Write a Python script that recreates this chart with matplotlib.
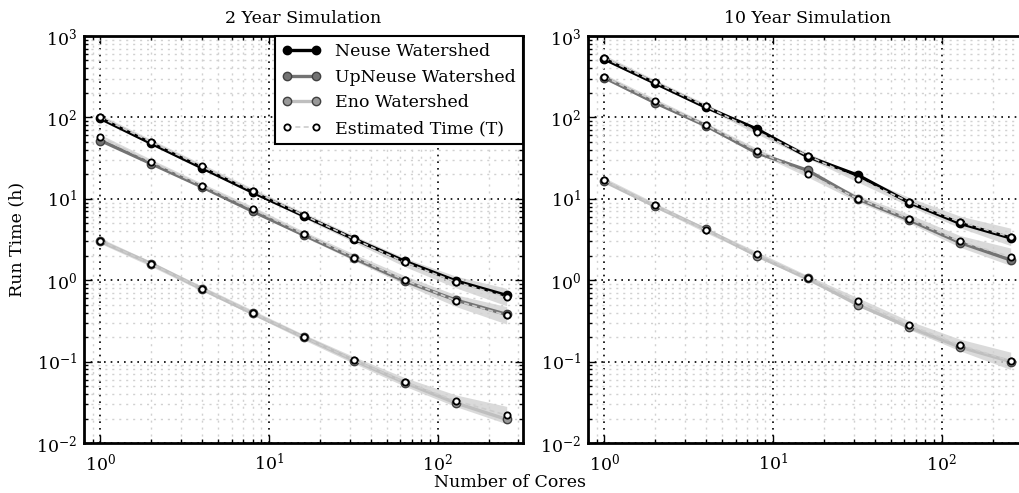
import numpy as np
import matplotlib.pyplot as plt

plt.rcParams['font.family'] = ['DejaVu Serif']
plt.rcParams['mathtext.fontset'] = 'dejavuserif'
plt.rcParams['font.size'] = 12.5

cores = [1, 2, 4, 8, 16, 32, 64, 128, 256]

# 2 year simulation (hours)
neuse_2 = [97, 48, 24, 12, 6.2, 3.2, 1.7, 0.98, 0.65]
neuse_2_est = [100, 50, 25, 12.5, 6.3, 3.2, 1.65, 0.95, 0.62]
upneuse_2 = [52, 27, 14, 7.0, 3.6, 1.85, 0.97, 0.57, 0.38]
upneuse_2_est = [57, 28.5, 14.5, 7.5, 3.7, 1.9, 1.0, 0.56, 0.37]
eno_2 = [3.0, 1.6, 0.78, 0.39, 0.2, 0.103, 0.055, 0.031, 0.0195]
eno_2_est = [3.05, 1.58, 0.79, 0.40, 0.2, 0.104, 0.056, 0.033, 0.022]

# 10 year simulation (hours)
neuse_10 = [520, 263, 133, 72, 33, 19.4, 9.0, 5.0, 3.3]
neuse_10_est = [540, 270, 137, 67, 34, 17.5, 9.2, 5.2, 3.4]
upneuse_10 = [308, 151, 79, 36.6, 22.4, 9.9, 5.5, 2.9, 1.77]
upneuse_10_est = [315, 158, 80, 39, 20, 10, 5.7, 3.0, 1.94]
eno_10 = [16.4, 8.1, 4.2, 2.0, 1.05, 0.495, 0.265, 0.151, 0.1]
eno_10_est = [16.8, 8.3, 4.1, 2.1, 1.06, 0.55, 0.28, 0.16, 0.102]

# multiplicative spread of the estimate band
band_spread = [1.08, 1.07, 1.07, 1.07, 1.08, 1.1, 1.13, 1.18, 1.28]

names = ['Neuse Watershed', 'UpNeuse Watershed', 'Eno Watershed']
line_colors = ['black', '0.45', '0.75']
marker_colors = ['black', '0.45', '0.6']
titles = ['2 Year Simulation', '10 Year Simulation']

panels = [
    [(neuse_2, neuse_2_est), (upneuse_2, upneuse_2_est), (eno_2, eno_2_est)],
    [(neuse_10, neuse_10_est), (upneuse_10, upneuse_10_est), (eno_10, eno_10_est)],
]

fig = plt.figure(figsize=(10.2, 4.93), dpi=100)
ax1 = fig.add_axes([0.0824, 0.1014, 0.4304, 0.8256])
ax2 = fig.add_axes([0.5765, 0.1014, 0.4304, 0.8256])

spread = np.array(band_spread)
for ax, series, title in zip([ax1, ax2], panels, titles):
    ax.set_xscale('log')
    ax.set_yscale('log')
    handles = []
    for (meas, est), lc, mc, name in zip(series, line_colors, marker_colors, names):
        est = np.array(est)
        ax.fill_between(cores, est / spread, est * spread, color='0.82',
                        alpha=0.8, lw=0, zorder=2)
        h, = ax.plot(cores, meas, '-o', color=lc, lw=2.4, ms=6,
                     mfc=mc, mec='0.25' if mc != 'black' else 'black',
                     mew=1.0, zorder=3, label=name)
        handles.append(h)
        he, = ax.plot(cores, est, linestyle=(0, (3, 2)), color='0.8', lw=1.2,
                      marker='o', ms=4.5, mfc='white', mec='black', mew=1.3,
                      zorder=4, label='Estimated Time (T)')
    handles.append(he)
    ax.set_xlim(0.8, 320)
    ax.set_ylim(1e-2, 1e3)
    ax.set_title(title, fontsize=12.5, pad=9)
    ax.grid(True, which='major', color='black', linestyle=(0, (1, 3)), lw=1.2)
    ax.grid(True, which='minor', color='0.82', linestyle=(0, (1.5, 3.5)), lw=1.0)
    ax.set_axisbelow(True)
    ax.tick_params(which='both', direction='in', top=True, right=True, width=1)
    ax.tick_params(which='major', length=6, pad=5)
    ax.tick_params(axis='x', which='major', pad=7)
    ax.tick_params(which='minor', length=3)
    for s in ax.spines.values():
        s.set_linewidth(2)

ax1.set_ylabel('Run Time (h)', labelpad=8)
fig.text(0.5, 0.004, 'Number of Cores', ha='center', va='bottom', fontsize=12.5)

leg = ax1.legend(handles=handles, loc='upper right', borderaxespad=0,
                 fancybox=False, framealpha=1, edgecolor='black',
                 handlelength=2.3, numpoints=2, fontsize=12.5)
leg.get_frame().set_linewidth(1.5)
leg.set_zorder(10)

fig.savefig('out.png', dpi=100)
